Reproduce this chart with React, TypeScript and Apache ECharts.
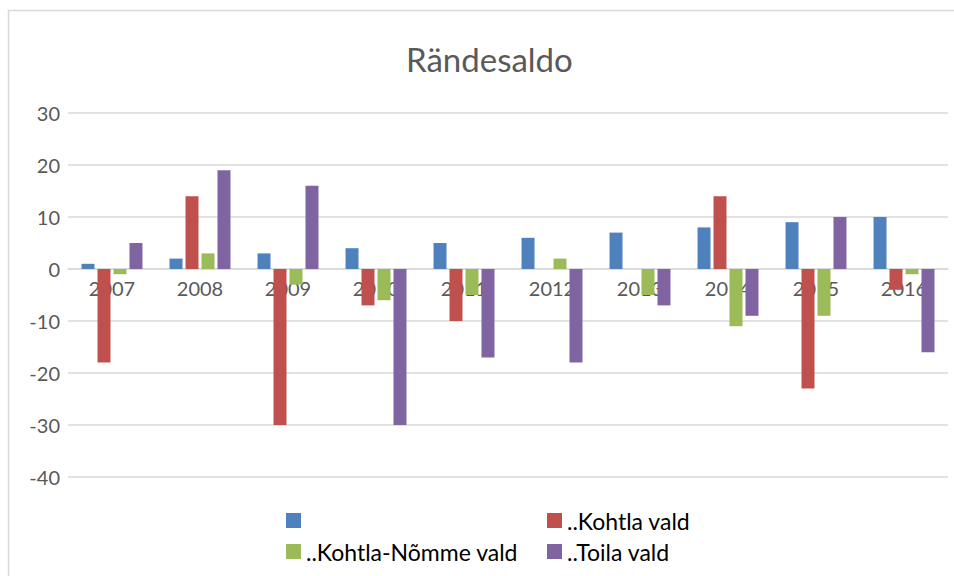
import React, { useEffect, useRef } from "react";
import * as echarts from "echarts";

const years = ["2007", "2008", "2009", "2010", "2011", "2012", "2013", "2014", "2015", "2016"];
const seriesNames = [" ", "..Kohtla vald", "..Kohtla-Nõmme vald", "..Toila vald"];
const blueValues = [1, 2, 3, 4, 5, 6, 7, 8, 9, 10];
const kohtlaValues = [-18, 14, -30, -7, -10, 0, 0, 14, -23, -4];
const kohtlaNommeValues = [-1, 3, -3, -6, -5, 2, -5, -11, -9, -1];
const toilaValues = [5, 19, 16, -30, -17, -18, -7, -9, 10, -16];
const colors = ["#4F81BD", "#C0504D", "#9BBB59", "#8064A2"];

const FONT = "Lato, 'Open Sans', sans-serif";
const Y_MIN = -40;
const Y_MAX = 30;
const GRID_TOP = 113;
const GRID_BOTTOM = 99;
const GRID_HEIGHT = 576 - GRID_TOP - GRID_BOTTOM;

export default function App() {
  const ref = useRef<HTMLDivElement>(null);
  useEffect(() => {
    if (!ref.current) return;
    const chart = echarts.init(ref.current, undefined, { renderer: "svg" });
    const allValues = [blueValues, kohtlaValues, kohtlaNommeValues, toilaValues];
    // shift the category axis up so it sits on the zero line
    const zeroOffset = -(GRID_HEIGHT * (0 - Y_MIN)) / (Y_MAX - Y_MIN);
    const legendText = { fontFamily: FONT, fontSize: 23, lineHeight: 23, color: "#000" };
    chart.setOption({
      animation: false,
      color: colors,
      textStyle: { fontFamily: FONT },
      title: {
        text: "Rändesaldo",
        left: 401,
        top: 37,
        textStyle: { fontFamily: FONT, fontSize: 33, fontWeight: "normal", color: "#595959" },
      },
      graphic: [
        {
          type: "rect",
          shape: { x: 8.5, y: 10.5, width: 960, height: 600 },
          style: { fill: "none", stroke: "#d9d9d9", lineWidth: 1.5 },
          silent: true,
        },
      ],
      legend: [
        {
          data: [seriesNames[0], seriesNames[2]],
          orient: "vertical",
          left: 281,
          top: 504,
          itemWidth: 15,
          itemHeight: 15,
          itemGap: 8,
          icon: "rect",
          textStyle: legendText,
        },
        {
          data: [seriesNames[1], seriesNames[3]],
          orient: "vertical",
          left: 542,
          top: 504,
          itemWidth: 15,
          itemHeight: 15,
          itemGap: 8,
          icon: "rect",
          textStyle: legendText,
        },
      ],
      grid: { left: 68, right: 6, top: GRID_TOP, bottom: GRID_BOTTOM, containLabel: false },
      xAxis: {
        type: "category",
        data: years,
        offset: zeroOffset,
        axisLine: { onZero: false, lineStyle: { color: "#d9d9d9", width: 1.5 } },
        axisTick: { show: false },
        axisLabel: { color: "#595959", fontSize: 20, fontFamily: FONT, margin: 9 },
      },
      yAxis: {
        type: "value",
        min: Y_MIN,
        max: Y_MAX,
        interval: 10,
        axisLine: { show: false },
        axisTick: { show: false },
        axisLabel: { color: "#595959", fontSize: 20, fontFamily: FONT, margin: 8 },
        splitLine: { lineStyle: { color: "#d9d9d9", width: 1.5 } },
      },
      series: seriesNames.map((name, i) => ({
        name,
        type: "bar",
        data: allValues[i],
        barWidth: 13,
        barGap: "23%",
        itemStyle: { color: colors[i] },
      })),
    });
    return () => chart.dispose();
  }, []);
  return (
    <div
      ref={ref}
      style={{ position: "fixed", left: 0, top: 0, width: 954, height: 576, background: "#fff" }}
    />
  );
}
